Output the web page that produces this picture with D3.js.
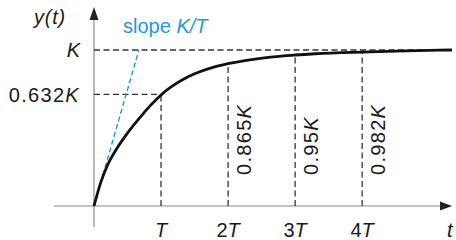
<!DOCTYPE html>
<html><head><meta charset="utf-8">
<script src="https://cdn.jsdelivr.net/npm/d3@7"></script>
<style>
html,body{margin:0;padding:0;background:#fff;}
svg{display:block;font-family:"Liberation Sans",Arial,Helvetica,sans-serif;}
</style></head>
<body><svg id="c" width="456" height="240"></svg>
<script>
// Step response y(t) = K(1 - e^{-t/T}) (t in units of T, y in units of K as drawn)
const curveT = [0, 0.1, 0.2, 0.35, 0.5, 0.7, 0.85, 1.0, 1.15, 1.3, 1.5, 1.75, 2.0, 2.3, 2.6, 3.0, 3.3, 4.0, 4.5, 5.34];
const curveY = [0, 0.15, 0.26, 0.375, 0.468, 0.575, 0.648, 0.712, 0.763, 0.805, 0.848, 0.886, 0.912, 0.935, 0.953, 0.968, 0.976, 0.987, 0.993, 1.0];
const tickValues = [1, 2, 3, 4];
const tickNums = ["", "2", "3", "4"];
const levelLabels = ["0.865K", "0.95K", "0.982K"];
const levelTicks = [2, 3, 4];
const markT = 1, markY = 0.715;          // 0.632K point as drawn
const slopeEnd = [0.67, 1.0];             // tangent line reaches K
const tMax = 5.34;

const svg = d3.select("#c");
const x = d3.scaleLinear().domain([0, tMax]).range([94, 452]);
const y = d3.scaleLinear().domain([0, 1]).range([206, 50]);
const axisCol = "#8a8a8a", dashCol = "#333", blue = "#1f9ad8", txt = "#1a1a1a";

function valAt(t){ return d3.scaleLinear().domain(curveT).range(curveY)(t); }

// axes
svg.append("line").attr("x1", 54).attr("x2", x(tMax) - 8).attr("y1", y(0)).attr("y2", y(0))
  .attr("stroke", axisCol).attr("stroke-width", 1.2);
svg.append("line").attr("x1", x(0)).attr("x2", x(0)).attr("y1", 227).attr("y2", 17).attr("stroke", axisCol).attr("stroke-width", 1.2);
svg.append("path").attr("d", `M${x(0)},7 L${x(0)-4.5},20 L${x(0)+4.5},20 Z`).attr("fill", "#222");
svg.append("path").attr("d", `M${x(tMax)},${y(0)} L${x(tMax)-12},${y(0)-4.5} L${x(tMax)-12},${y(0)+4.5} Z`).attr("fill", "#222");

// dashed guides
const dash = "6,3.5";
svg.append("line").attr("x1", x(0)).attr("x2", x(tMax)).attr("y1", y(1)).attr("y2", y(1))
  .attr("stroke", dashCol).attr("stroke-width", 1.3).attr("stroke-dasharray", dash);
svg.append("line").attr("x1", x(0)).attr("x2", x(markT)).attr("y1", y(markY)).attr("y2", y(markY))
  .attr("stroke", dashCol).attr("stroke-width", 1.3).attr("stroke-dasharray", dash);
svg.selectAll("line.vt").data(tickValues).enter().append("line").attr("class", "vt")
  .attr("x1", d => x(d)).attr("x2", d => x(d)).attr("y1", y(0)).attr("y2", d => y(d === markT ? markY : valAt(d)))
  .attr("stroke", dashCol).attr("stroke-width", 1.3).attr("stroke-dasharray", dash);

// slope line
svg.append("line").attr("x1", x(0)).attr("y1", y(0)).attr("x2", x(slopeEnd[0])).attr("y2", y(slopeEnd[1]))
  .attr("stroke", blue).attr("stroke-width", 1.4).attr("stroke-dasharray", "5,3");

// curve
const line = d3.line().x((d, i) => x(curveT[i])).y((d, i) => y(curveY[i])).curve(d3.curveMonotoneX);
svg.append("path").datum(curveT).attr("d", line).attr("fill", "none").attr("stroke", "#111").attr("stroke-width", 2.8);

// texts
const fs = 20;
svg.append("text").attr("x", 34).attr("y", 24).attr("font-size", fs).attr("fill", txt)
  .attr("font-style", "italic").attr("letter-spacing", 0.8).text("y(t)");
svg.append("text").attr("x", 80).attr("y", y(1) + 7).attr("text-anchor", "end").attr("font-size", fs)
  .attr("font-style", "italic").attr("fill", txt).text("K");
const t632 = svg.append("text").attr("x", 80).attr("y", y(markY) + 8).attr("text-anchor", "end").attr("font-size", fs).attr("fill", txt).attr("letter-spacing", 1.3);
t632.append("tspan").text("0.632");
t632.append("tspan").attr("font-style", "italic").text("K");

const sl = svg.append("text").attr("x", 123).attr("y", 33).attr("font-size", fs).attr("fill", blue);
sl.append("tspan").text("slope ");
sl.append("tspan").attr("font-style", "italic").text("K/T");

// tick labels
const tl = svg.selectAll("text.tk").data(tickValues).enter().append("text").attr("class", "tk")
  .attr("x", d => x(d)).attr("y", 237).attr("text-anchor", "middle").attr("font-size", fs).attr("fill", txt);
tl.append("tspan").text((d, i) => tickNums[i]);
tl.append("tspan").attr("font-style", "italic").text("T");
svg.append("text").attr("x", 447).attr("y", 237).attr("font-size", fs).attr("font-style", "italic").attr("fill", txt).text("t");

// rotated level labels
svg.selectAll("text.lv").data(levelLabels).enter().append("text").attr("class", "lv")
  .attr("transform", (d, i) => `translate(${x(levelTicks[i]) + 23},175) rotate(-90)`)
  .attr("font-size", fs).attr("fill", txt).attr("letter-spacing", 1.3)
  .each(function(d){
    const s = d3.select(this);
    s.append("tspan").text(d.slice(0, -1));
    s.append("tspan").attr("font-style", "italic").text("K");
  });
</script></body></html>
